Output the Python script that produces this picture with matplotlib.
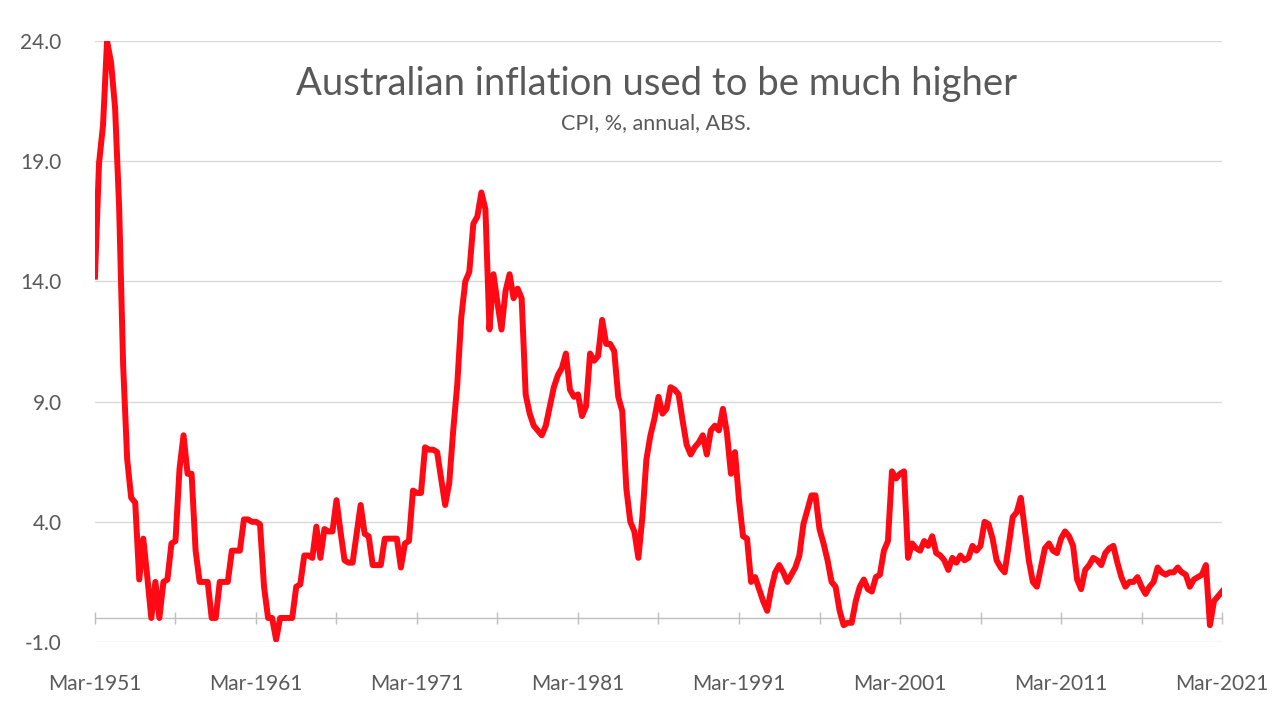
import matplotlib
matplotlib.use("Agg")
import matplotlib.pyplot as plt
import numpy as np

plt.rcParams["font.family"] = ["Lato", "DejaVu Sans"]

# Quarterly CPI, annual % change, Mar-1951 .. Mar-2021
cpi_1950s = [14.2, 18.9, 20.5, 24.0,
             23.1, 21.2, 17.1, 10.5,
             6.6, 5.0, 4.8, 1.6,
             3.3, 1.7, 0.0, 1.5,
             0.0, 1.5, 1.6, 3.1,
             3.2, 6.2, 7.6, 6.0,
             6.0, 2.8, 1.5, 1.5,
             1.5, 0.0, 0.0, 1.5,
             1.5, 1.5, 2.8, 2.8]
cpi_1960s = [2.8, 4.1, 4.1, 4.0,
             4.0, 3.9, 1.3, 0.0,
             0.0, -0.9, 0.0, 0.0,
             0.0, 0.0, 1.3, 1.4,
             2.6, 2.6, 2.5, 3.8,
             2.5, 3.7, 3.6, 3.6,
             4.9, 3.6, 2.4, 2.3,
             2.3, 3.5, 4.7, 3.5,
             3.4, 2.2, 2.2, 2.2,
             3.3, 3.3, 3.3, 3.3]
cpi_1970s = [2.1, 3.1, 3.2, 5.3,
             5.2, 5.2, 7.1, 7.0,
             7.0, 6.9, 5.8, 4.7,
             5.6, 7.8, 9.7, 12.5,
             14.0, 14.4, 16.4, 16.7,
             17.7, 17.0, 12.0, 14.3,
             13.1, 12.0, 13.6, 14.3,
             13.3, 13.7, 13.3, 9.3,
             8.5, 8.0, 7.8, 7.6,
             8.0, 8.8, 9.6, 10.1]
cpi_1980s = [10.4, 11.0, 9.5, 9.2,
             9.3, 8.4, 8.8, 11.0,
             10.7, 10.9, 12.4, 11.4,
             11.4, 11.1, 9.2, 8.6,
             5.4, 4.0, 3.6, 2.5,
             4.2, 6.6, 7.6, 8.3,
             9.2, 8.5, 8.7, 9.6,
             9.5, 9.3, 8.2, 7.2,
             6.8, 7.1, 7.3, 7.6,
             6.8, 7.8, 8.0, 7.8]
cpi_1990s = [8.7, 7.7, 6.0, 6.9,
             4.9, 3.4, 3.3, 1.5,
             1.7, 1.2, 0.7, 0.3,
             1.2, 1.9, 2.2, 1.9,
             1.5, 1.8, 2.1, 2.6,
             3.9, 4.5, 5.1, 5.1,
             3.7, 3.1, 2.4, 1.5,
             1.3, 0.3, -0.3, -0.2,
             -0.2, 0.7, 1.3, 1.6,
             1.2, 1.1, 1.7, 1.8]
cpi_2000s = [2.8, 3.2, 6.1, 5.8,
             6.0, 6.1, 2.5, 3.1,
             2.9, 2.8, 3.2, 3.0,
             3.4, 2.7, 2.6, 2.4,
             2.0, 2.5, 2.3, 2.6,
             2.4, 2.5, 3.0, 2.8,
             3.0, 4.0, 3.9, 3.3,
             2.4, 2.1, 1.9, 3.0,
             4.2, 4.4, 5.0, 3.7,
             2.4, 1.5, 1.3, 2.1]
cpi_2010s = [2.9, 3.1, 2.8, 2.7,
             3.3, 3.6, 3.4, 3.0,
             1.6, 1.2, 2.0, 2.2,
             2.5, 2.4, 2.2, 2.7,
             2.9, 3.0, 2.3, 1.7,
             1.3, 1.5, 1.5, 1.7,
             1.3, 1.0, 1.3, 1.5,
             2.1, 1.9, 1.8, 1.9,
             1.9, 2.1, 1.9, 1.8,
             1.3, 1.6, 1.7, 1.8]
cpi_2020s = [2.2, -0.3, 0.7, 0.9,
             1.1]

x_labels = ["Mar-1951", "Mar-1961", "Mar-1971", "Mar-1981",
            "Mar-1991", "Mar-2001", "Mar-2011", "Mar-2021"]
y_ticks = [-1.0, 4.0, 9.0, 14.0, 19.0, 24.0]

cpi = np.array(cpi_1950s + cpi_1960s + cpi_1970s + cpi_1980s
               + cpi_1990s + cpi_2000s + cpi_2010s + cpi_2020s)
quarters = np.arange(len(cpi))

GREY = "#595959"

fig = plt.figure(figsize=(12.8, 7.2), dpi=100)
ax = fig.add_axes([0.0742, 0.1083, 0.8805, 0.8347])

ax.set_ylim(-1, 24)
ax.set_xlim(0, len(cpi) - 1)
ax.set_yticks(y_ticks)
ax.set_yticklabels([f"{t:.1f}" for t in y_ticks])
ax.yaxis.grid(True, color="#d9d9d9", linewidth=1.0)
ax.set_axisbelow(True)

for s in ("left", "right", "top"):
    ax.spines[s].set_visible(False)
ax.spines["bottom"].set_position(("data", 0))
ax.spines["bottom"].set_color("#bfbfbf")
ax.spines["bottom"].set_linewidth(1.0)

ax.set_xticks(np.arange(0, len(cpi), 40))
ax.set_xticklabels(x_labels)
ax.set_xticks(np.arange(20, len(cpi), 40), minor=True)
ax.tick_params(axis="x", which="both", direction="inout", length=9,
               color="#bfbfbf", width=1.0, pad=36,
               labelsize=15, labelcolor=GREY)
ax.tick_params(axis="y", length=0, pad=24, labelsize=15, labelcolor=GREY)

ax.plot(quarters, cpi, color="#ff0a14", linewidth=4.3,
        solid_joinstyle="round", zorder=3)

fig.text(0.5125, 0.884, "Australian inflation used to be much higher",
         ha="center", va="center", fontsize=27.5, color=GREY)
fig.text(0.5125, 0.829, "CPI, %, annual, ABS.", ha="center", va="center",
         fontsize=15.5, color=GREY)

fig.savefig("out.png", dpi=100, facecolor="white")
